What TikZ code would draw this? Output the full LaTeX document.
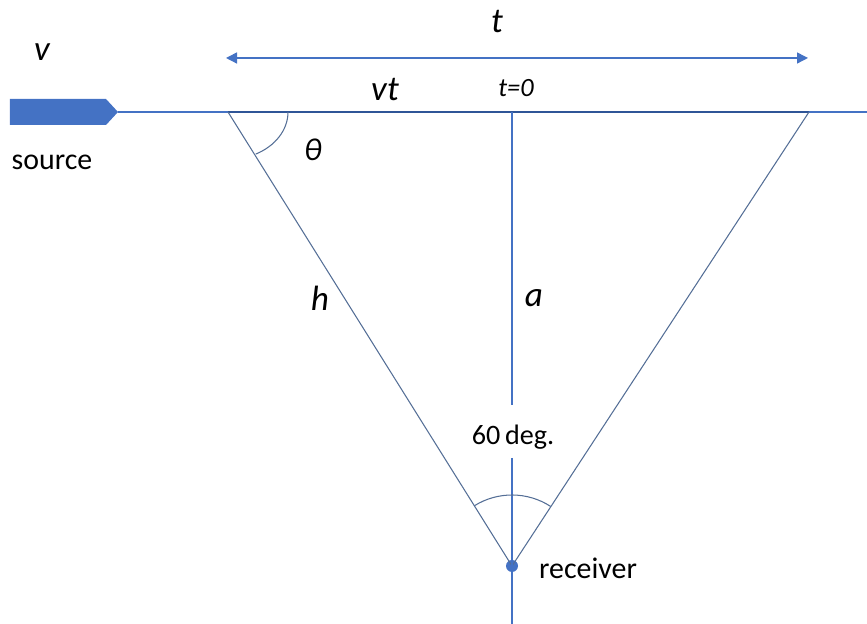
\documentclass[tikz,border=0pt]{standalone}
\usepackage{fontspec}
\setmainfont{Carlito}
\usetikzlibrary{arrows.meta}
\definecolor{lineblue}{RGB}{68,114,196}
\definecolor{darkblue}{RGB}{47,85,151}
\definecolor{thinline}{RGB}{84,110,150}
\begin{document}
\begin{tikzpicture}[
  thin line/.style={thinline,line width=0.6pt},
  lbl/.style={font=\fontsize{17}{20}\selectfont,inner sep=1pt},
  sym/.style={font=\fontsize{20}{24}\selectfont\itshape,inner sep=1pt}
]
\useasboundingbox (0,0) rectangle (17.34,12.48);
% points of the triangle
\coordinate (A) at (4.56,10.24);
\coordinate (B) at (16.18,10.24);
\coordinate (T) at (10.24,10.24);
\coordinate (tip) at (2.36,10.24);
\coordinate (end) at (17.34,10.24);
\coordinate (upper) at (10.24,4.38);
\coordinate (lower) at (10.24,3.32);
\coordinate (bottom) at (10.24,0);
\coordinate (tl) at (4.52,11.32);
\coordinate (tr) at (16.16,11.32);
\node[circle,fill=lineblue,inner sep=0pt,minimum size=0.24cm] (R) at (10.24,1.16) {};
% source
\fill[lineblue] (0.2,9.98) -- (2.12,9.98) -- (tip) -- (2.12,10.5) -- (0.2,10.5) -- cycle;
\draw[lineblue,line width=0.6pt] (tip) -- (A);
\draw[darkblue,line width=1.2pt] (A) -- (B);
\draw[lineblue,line width=0.6pt] (B) -- (end);
\draw[thin line] (A) -- (R.center) -- (B);
\draw[thin line,lineblue] (T) -- (upper);
\draw[thin line,lineblue] (lower) -- (bottom);
\draw[lineblue,line width=0.8pt,{Triangle[length=2.2mm,width=2.2mm]}-{Triangle[length=2.2mm,width=2.2mm]}] (tl) -- (tr);
% angles
\draw[thin line] ([xshift=1.2cm]A) arc[start angle=0,end angle=-62.5,x radius=1.2cm,y radius=0.95cm];
\draw[thin line] (R.center) ++(57:1.42) arc[start angle=57,end angle=122,radius=1.42];
% labels
\node[sym] (tlbl) at (9.94,12.04) {t};
\node[sym] (vlbl) at (0.84,11.44) {v};
\node[sym] (vtlbl) at (7.7,10.68) {vt};
\node[font=\fontsize{15}{18}\selectfont\itshape,inner sep=1pt] (t0) at (10.32,10.72) {t=0};
\node[sym,font=\fontsize{18}{22}\selectfont\itshape] (th) at (6.26,9.48) {θ};
\node[lbl] (src) at (1.04,9.24) {source};
\node[sym] (hlbl) at (6.4,6.52) {h};
\node[sym] (albl) at (10.68,6.52) {a};
\node[lbl,font=\fontsize{16}{19}\selectfont] (deg) at (10.26,3.74) {60\,deg.};
\node[lbl] (rec) at (11.76,1.12) {receiver};
\end{tikzpicture}
\end{document}
